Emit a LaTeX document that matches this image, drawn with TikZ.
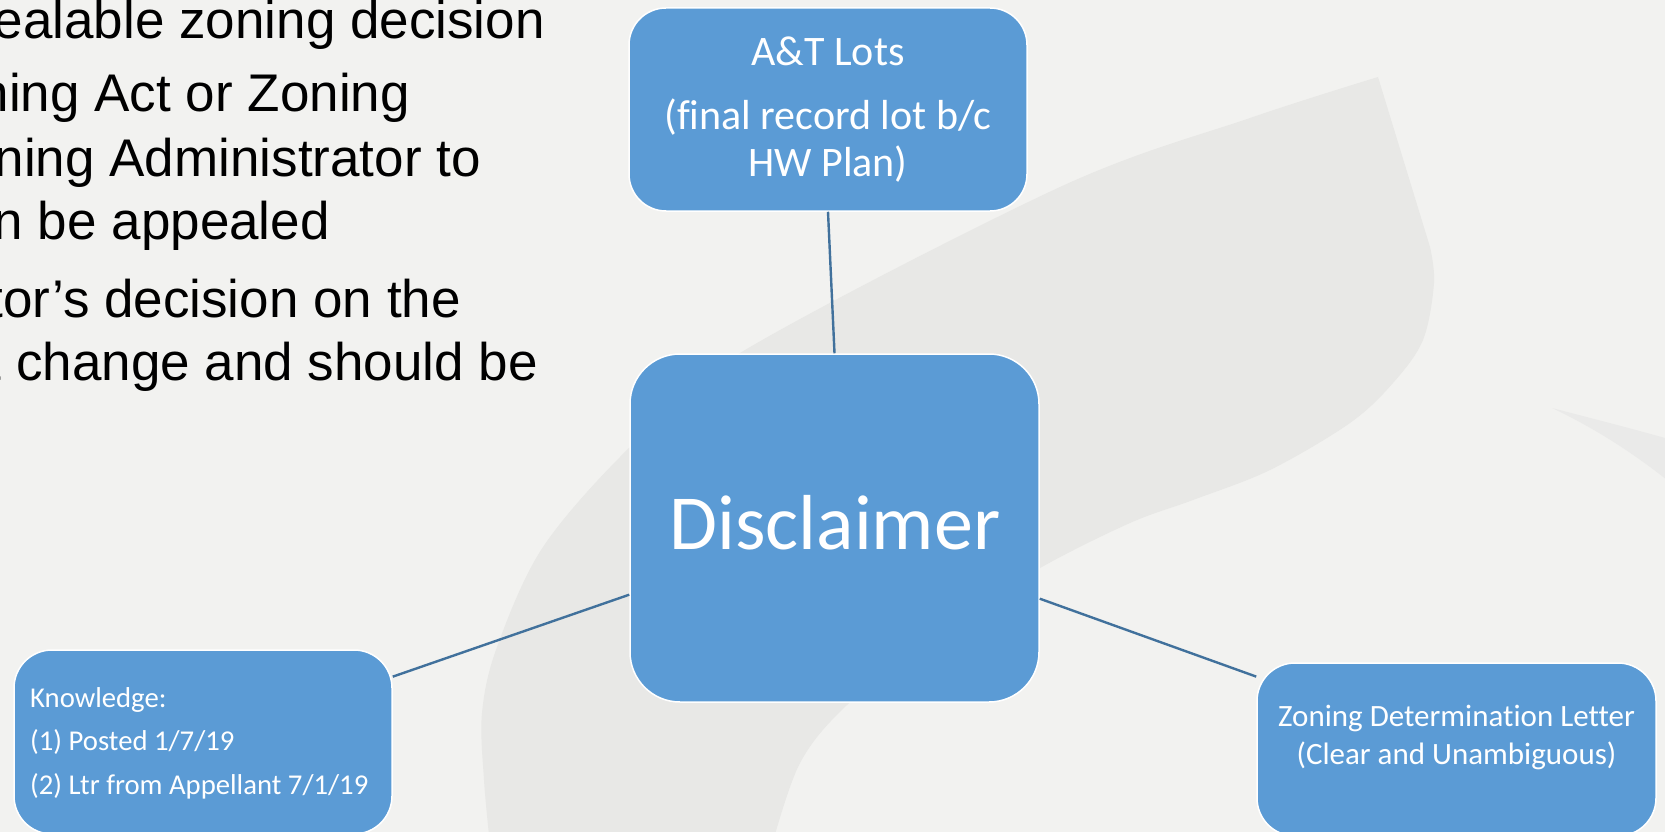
\documentclass[tikz,border=0pt]{standalone}
\usepackage{fontspec}
\setmainfont{Carlito}[Ligatures=NoCommon]
\newfontfamily\arialfont{Liberation Sans}
\definecolor{bg}{HTML}{F2F2F0}
\definecolor{swoosh}{HTML}{E8E8E6}
\definecolor{wedge}{HTML}{EAEAE9}
\definecolor{boxblue}{HTML}{5B9BD5}
\definecolor{linkblue}{HTML}{41719C}
\begin{document}
\begin{tikzpicture}[x=1pt,y=-1pt,
  box/.style={draw=white, line width=1.5pt, fill=boxblue, rectangle, inner sep=0pt},
  boxtext/.style={text=white, inner sep=0pt, anchor=base},
  boxtextl/.style={text=white, inner sep=0pt, anchor=base west},
  link/.style={draw=linkblue, line width=2.4pt},
  bodytext/.style={text=black, inner sep=0pt, anchor=base east, font=\arialfont\fontsize{53}{60}\selectfont}]
\useasboundingbox (0,0) rectangle (1665,832);
\clip (0,0) rectangle (1665,832);
\fill[bg] (0,0) rectangle (1665,832);
% background swoosh
\fill[swoosh] plot[smooth, tension=0.55] coordinates {(1378,77) (1250,118) (1060,187) (740,353) (630,447) (543,547) (497,647) (482,713) (484,780) (490,845)}
  -- (772,845) -- plot[smooth, tension=0.55] coordinates {(772,845) (800,763) (847,705) (940,630) (1040,568) (1130,523) (1193,500) (1270,470) (1350,423) (1393,383) (1423,340) (1434,283) (1430,247)} -- cycle;
\fill[wedge] (1552,408) .. controls (1590,418) and (1630,428) .. (1672,440) -- (1672,484) .. controls (1630,450) and (1590,426) .. (1552,408) -- cycle;
% left text (cropped slide text)
\node[bodytext] (l1) at (545,39) {ealable zoning decision};
\node[bodytext] (l2) at (410,112) {ning Act or Zoning};
\node[bodytext] (l3) at (481,176) {ning Administrator to};
\node[bodytext] (l4) at (330,239) {n be appealed};
\node[bodytext] (l5) at (461,317) {tor’s decision on the};
\node[bodytext] (l6) at (538,380) {t change and should be};
% boxes
\node[box, rounded corners=37pt, minimum width=398pt, minimum height=203pt] (at) at (828,109.5) {};
\node[box, rounded corners=50pt, minimum width=409pt, minimum height=348pt] (disc) at (834.5,528) {};
\node[box, rounded corners=38pt, minimum width=378pt, minimum height=184pt] (kn) at (203,742) {};
\node[box, rounded corners=38pt, minimum width=399pt, minimum height=173pt] (zn) at (1456.5,749.5) {};
% connectors
\draw[link] (at.south) -- (disc.north);
\draw[link] (kn.19.2) -- (disc.198.6);
\draw[link] (disc.-19.6) -- (zn.160.3);
% box texts
\node[boxtext, font=\fontsize{42}{46}\selectfont] (at1) at (828,66) {A\&T Lots};
\node[boxtext, font=\fontsize{42}{46}\selectfont] (at2) at (828,130) {(final record lot b/c};
\node[boxtext, font=\fontsize{42}{46}\selectfont] (at3) at (828,176) {HW Plan)};
\node[boxtext, font=\fontsize{78}{90}\selectfont] (disct) at (835,549) {Disclaimer};
\node[boxtextl, font=\fontsize{28.7}{36}\selectfont] (kn1) at (30,707) {Knowledge:};
\node[boxtextl, font=\fontsize{28.7}{36}\selectfont] (kn2) at (30,750) {(1) Posted 1/7/19};
\node[boxtextl, font=\fontsize{28.7}{36}\selectfont] (kn3) at (30,794) {(2) Ltr from Appellant 7/1/19};
\node[boxtext, font=\fontsize{31}{38}\selectfont] (zn1) at (1456.5,726) {Zoning Determination Letter};
\node[boxtext, font=\fontsize{31}{38}\selectfont] (zn2) at (1456.5,764) {(Clear and Unambiguous)};
\end{tikzpicture}
\end{document}
